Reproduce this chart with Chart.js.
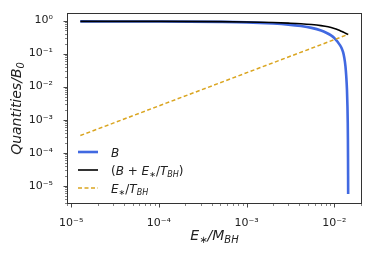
<!DOCTYPE html>
<html>
<head>
<meta charset="utf-8">
<script src="https://cdn.jsdelivr.net/npm/chart.js@4/dist/chart.umd.min.js"></script>
<style>
html, body { margin: 0; padding: 0; background: #fff; }
</style>
</head>
<body>
<canvas id="grafico" width="374" height="257"></canvas>
<script>
// valores (E*/M_BH no eixo x)
const xB = [1.27e-5, 1e-4, 5e-4, 1e-3, 2e-3, 3e-3, 4.17e-3, 5.5e-3, 7.06e-3, 8.2e-3, 9.18e-3, 1.01e-2,
            1.096e-2, 1.16e-2, 1.22e-2, 1.26e-2, 1.3e-2, 1.34e-2, 1.37e-2, 1.395e-2, 1.413e-2, 1.424e-2,
            1.43e-2, 1.434e-2, 1.437e-2, 1.439e-2];
const yB = [0.94, 0.935, 0.91, 0.88, 0.81, 0.75, 0.68, 0.6, 0.5, 0.42, 0.355, 0.29,
            0.223, 0.18, 0.14, 0.11, 0.075, 0.042, 0.02, 0.008, 2.5e-3, 8e-4,
            2.5e-4, 7e-5, 2e-5, 5.6e-6];

const xSoma = [1.27e-5, 1e-4, 5e-4, 1e-3, 2e-3, 3e-3, 4.17e-3, 5.5e-3, 7.06e-3, 8.5e-3, 1e-2, 1.1e-2, 1.2e-2, 1.3e-2, 1.38e-2, 1.44e-2];
const ySoma = [0.94, 0.94, 0.925, 0.905, 0.87, 0.835, 0.8, 0.755, 0.7, 0.645, 0.575, 0.525, 0.475, 0.43, 0.4, 0.38];

const xRazao = [1.27e-5, 1.44e-2];
const yRazao = [3.3e-4, 0.38];

const xMin = 8.95e-6, xMax = 2.07e-2;
const yMin = 2.8e-6, yMax = 1.69;
const xMajores = [1e-5, 1e-4, 1e-3, 1e-2];
const yMajores = [1e-5, 1e-4, 1e-3, 1e-2, 1e-1, 1];

const FONTE = '"DejaVu Sans", sans-serif';
const sup = { '0': '⁰', '1': '¹', '2': '²', '3': '³', '4': '⁴', '5': '⁵', '-': '⁻' };

function rotuloPotencia(v) {
    const e = Math.round(Math.log10(v));
    return '10' + String(e).split('').map(c => sup[c]).join('');
}

function pontos(xs, ys) {
    return xs.map((x, i) => ({ x: x, y: ys[i] }));
}

// texto com subscritos: cada parte = [texto, italico, subscrito]
function textoRico(ctx, partes, x, y, tam, alinhar) {
    const fonte = p => (p[1] ? 'italic ' : '') + (p[2] ? Math.round(tam * 0.7) : tam) + 'px ' + FONTE;
    let larg = 0;
    partes.forEach(p => { ctx.font = fonte(p); larg += ctx.measureText(p[0]).width; });
    let cx = alinhar === 'center' ? x - larg / 2 : x;
    ctx.textAlign = 'left';
    ctx.textBaseline = 'alphabetic';
    partes.forEach(p => {
        ctx.font = fonte(p);
        ctx.fillText(p[0], cx, y + (p[2] ? tam * 0.22 : 0));
        cx += ctx.measureText(p[0]).width;
    });
}

const legenda = [
    { cor: '#4169e1', largura: 2.6, tracejado: [], texto: [['B', true, false]] },
    { cor: '#000000', largura: 1.6, tracejado: [], texto: [['(', false, false], ['B', true, false], [' + ', false, false], ['E', true, false], ['∗', false, true], ['/', false, false], ['T', true, false], ['BH', true, true], [')', false, false]] },
    { cor: '#daa520', largura: 1.5, tracejado: [4, 2.5], texto: [['E', true, false], ['∗', false, true], ['/', false, false], ['T', true, false], ['BH', true, true]] }
];

const moldura = {
    id: 'moldura',
    afterDraw(chart) {
        const ctx = chart.ctx, a = chart.chartArea;
        const sx = chart.scales.x, sy = chart.scales.y;
        ctx.save();
        ctx.strokeStyle = '#333';
        ctx.lineWidth = 1;
        ctx.setLineDash([]);
        ctx.strokeRect(a.left + 0.5, a.top + 0.5, a.right - a.left - 1, a.bottom - a.top - 1);

        // marcas maiores e menores dos eixos log
        for (let d = -6; d <= 0; d++) {
            for (let k = 1; k <= 9; k++) {
                const v = k * Math.pow(10, d);
                const comp = k === 1 ? 3.5 : 2;
                ctx.lineWidth = k === 1 ? 0.9 : 0.6;
                if (v >= xMin && v <= xMax) {
                    const px = Math.round(sx.getPixelForValue(v)) + 0.5;
                    ctx.beginPath(); ctx.moveTo(px, a.bottom); ctx.lineTo(px, a.bottom + comp); ctx.stroke();
                }
                if (v >= yMin && v <= yMax) {
                    const py = Math.round(sy.getPixelForValue(v)) + 0.5;
                    ctx.beginPath(); ctx.moveTo(a.left, py); ctx.lineTo(a.left - comp, py); ctx.stroke();
                }
            }
        }

        // legenda
        legenda.forEach((item, i) => {
            const y = 152 + i * 18;
            ctx.strokeStyle = item.cor;
            ctx.lineWidth = item.largura;
            ctx.setLineDash(item.tracejado);
            ctx.beginPath(); ctx.moveTo(78, y); ctx.lineTo(98, y); ctx.stroke();
            ctx.setLineDash([]);
            ctx.fillStyle = '#222';
            textoRico(ctx, item.texto, 111, y + 4.5, 12, 'left');
        });

        // títulos dos eixos
        ctx.fillStyle = '#222';
        textoRico(ctx, [['E', true, false], ['∗', false, true], ['/', true, false], ['M', true, false], ['BH', true, true]], (a.left + a.right) / 2, 240, 14, 'center');
        ctx.translate(21, (a.top + a.bottom) / 2);
        ctx.rotate(-Math.PI / 2);
        textoRico(ctx, [['Quantities/B', true, false], ['0', true, true]], 0, 0, 14, 'center');
        ctx.restore();
    }
};

new Chart(document.getElementById('grafico').getContext('2d'), {
    type: 'line',
    data: {
        datasets: [
            {
                label: 'B',
                data: pontos(xB, yB),
                borderColor: '#4169e1',
                borderWidth: 2.6,
                pointRadius: 0,
                cubicInterpolationMode: 'monotone',
                fill: false,
                order: 2
            },
            {
                label: '(B + E*/T_BH)',
                data: pontos(xSoma, ySoma),
                borderColor: '#000000',
                borderWidth: 1.6,
                pointRadius: 0,
                cubicInterpolationMode: 'monotone',
                fill: false,
                order: 1
            },
            {
                label: 'E*/T_BH',
                data: pontos(xRazao, yRazao),
                borderColor: '#daa520',
                borderWidth: 1.5,
                borderDash: [4, 2.5],
                pointRadius: 0,
                fill: false,
                order: 0
            }
        ]
    },
    options: {
        responsive: false,
        animation: false,
        devicePixelRatio: 1,
        layout: { padding: { left: 0, top: 13, right: 12, bottom: 0 } },
        plugins: {
            legend: { display: false },
            tooltip: { enabled: false },
            title: { display: false }
        },
        scales: {
            x: {
                type: 'logarithmic',
                min: xMin,
                max: xMax,
                grid: { display: false },
                border: { display: false },
                afterBuildTicks: s => { s.ticks = xMajores.map(v => ({ value: v })); },
                afterFit: s => { s.height = 53; },
                ticks: {
                    autoSkip: false,
                    maxRotation: 0,
                    padding: 5,
                    color: '#222',
                    font: { family: FONTE, size: 11 },
                    callback: v => rotuloPotencia(v)
                }
            },
            y: {
                type: 'logarithmic',
                min: yMin,
                max: yMax,
                grid: { display: false },
                border: { display: false },
                afterBuildTicks: s => { s.ticks = yMajores.map(v => ({ value: v })); },
                afterFit: s => { s.width = 67; },
                ticks: {
                    autoSkip: false,
                    padding: 6,
                    color: '#222',
                    font: { family: FONTE, size: 11 },
                    callback: v => rotuloPotencia(v)
                }
            }
        }
    },
    plugins: [moldura]
});
</script>
</body>
</html>
